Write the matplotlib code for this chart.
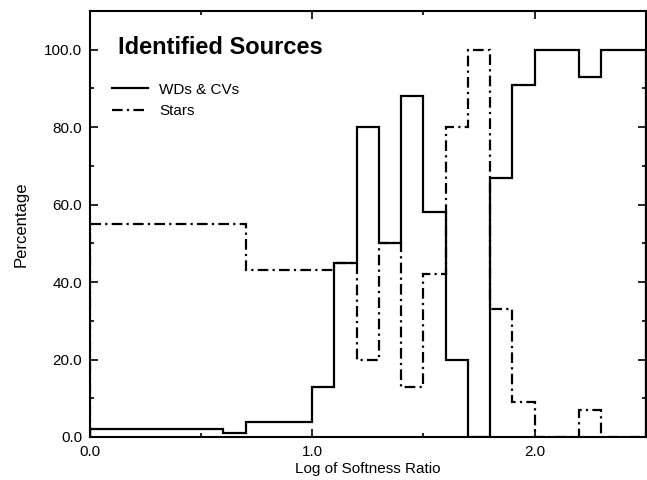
import matplotlib
matplotlib.use("Agg")
import matplotlib.pyplot as plt
from matplotlib.lines import Line2D
from matplotlib.ticker import MultipleLocator, FormatStrFormatter

plt.rcParams['font.family'] = ['Liberation Sans', 'DejaVu Sans']

# percentage per softness-ratio bin
wd_edges = [0.0, 0.6, 0.7, 1.0, 1.1, 1.2, 1.3, 1.4, 1.5, 1.6, 1.7, 1.8, 1.9, 2.0, 2.2, 2.3, 2.5]
wd_pct = [2, 1, 4, 13, 45, 80, 50, 88, 58, 20, 0, 67, 91, 100, 93, 100]

star_edges = [0.0, 0.7, 1.1, 1.2, 1.3, 1.4, 1.5, 1.6, 1.7, 1.8, 1.9, 2.0, 2.2, 2.3, 2.5]
star_pct = [55, 43, 45, 20, 50, 13, 42, 80, 100, 33, 9, 0, 7, 0]

dashdot = (0, (4.8, 1.9, 1.0, 1.9))
lw = 1.6

fig = plt.figure(figsize=(6.47, 4.80), dpi=100)
ax = fig.add_axes([0.139, 0.0896, 0.859, 0.8875])

# stars first so the solid line sits on top where they coincide
ax.stairs(star_pct, star_edges, color='black', lw=lw, linestyle=dashdot)
ax.stairs(wd_pct, wd_edges, color='black', lw=lw)

ax.set_xlim(0, 2.5)
ax.set_ylim(0, 110)

ax.xaxis.set_major_locator(MultipleLocator(1.0))
ax.xaxis.set_minor_locator(MultipleLocator(0.5))
ax.yaxis.set_major_locator(MultipleLocator(20))
ax.yaxis.set_minor_locator(MultipleLocator(10))
ax.xaxis.set_major_formatter(FormatStrFormatter('%.1f'))
ax.yaxis.set_major_formatter(FormatStrFormatter('%.1f'))

ax.tick_params(which='both', direction='in', top=True, right=True,
               labelsize=11, width=1.2)
ax.tick_params(axis='x', pad=6)
ax.tick_params(axis='y', pad=5.5)
ax.tick_params(which='major', length=6)
ax.tick_params(which='minor', length=3)
for s in ax.spines.values():
    s.set_linewidth(1.5)

ax.set_xlabel('Log of Softness Ratio', fontsize=11, labelpad=2)
ax.set_ylabel('Percentage', fontsize=12, labelpad=11)

ax.text(0.05, 0.9, 'Identified Sources', transform=ax.transAxes,
        fontsize=17, fontweight='bold', va='baseline', ha='left')

handles = [Line2D([], [], color='black', lw=lw),
           Line2D([], [], color='black', lw=lw, linestyle=dashdot)]
ax.legend(handles, ['WDs & CVs', 'Stars'], loc='upper left',
          bbox_to_anchor=(0.039, 0.832), frameon=False, fontsize=11,
          handlelength=2.4, handletextpad=0.7, labelspacing=0.5,
          borderaxespad=0, borderpad=0)

fig.savefig('out.png', dpi=100)
